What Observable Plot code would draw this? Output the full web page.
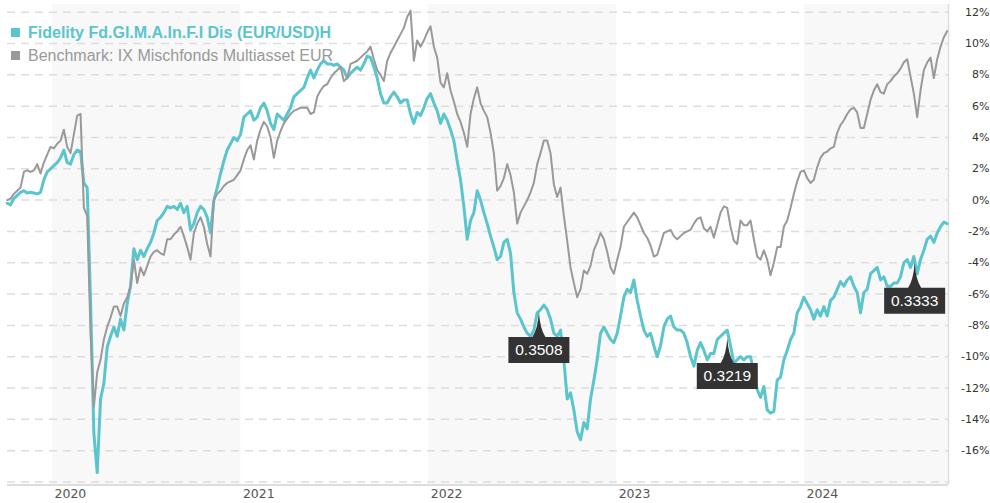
<!DOCTYPE html>
<html>
<head>
<meta charset="utf-8">
<script src="https://cdn.jsdelivr.net/npm/d3@7"></script>
<script src="https://cdn.jsdelivr.net/npm/@observablehq/plot@0.6"></script>
<style>
html, body { margin: 0; padding: 0; background: #fff; }
#wrap { position: relative; width: 990px; height: 503px; overflow: hidden; }
#legend { position: absolute; left: 11px; top: 21px; font-family: "Liberation Sans", Arial, sans-serif; font-size: 16px; line-height: 23px; z-index: 2; }
.item { display: flex; align-items: center; white-space: nowrap; }
.sw { width: 9px; height: 9px; margin-right: 8px; display: inline-block; flex: none; }
</style>
</head>
<body>
<div id="wrap"><div id="legend"></div></div>
<script>
// ---- data (values in %) ----
const seriesNames = ["Fidelity Fd.Gl.M.A.In.F.I Dis (EUR/USD)H", "Benchmark: IX Mischfonds Multiasset EUR"];
const seriesColors = ["#5bc5cd", "#999999"];

// sampling grid of the readings: first sample and spacing in days
const sampleStart = "2019-10-05";
const sampleStepDays = 6.476;

const fundValues = [
  -0.2,-0.3,0.1,0.3,0.5,0.6,0.45,0.5,0.45,0.4,
  0.5,1.3,1.8,2.0,2.2,2.4,2.7,3.2,2.4,2.3,
  2.9,3.2,3.1,1.1,0.8,-6.4,-14.9,-17.4,-12.7,-11.7,
  -9.4,-8.7,-8.1,-8.7,-7.6,-8.3,-6.6,-5.5,-3.1,-3.8,
  -3.2,-3.6,-3.1,-2.7,-2.1,-1.3,-1.1,-0.8,-0.4,-0.5,
  -0.4,-0.6,-0.2,-0.8,-0.4,-1.9,-1.5,-0.8,-0.4,-0.6,
  -1.1,-2.1,0,0.8,1.7,2.5,3.2,3.6,4.0,3.8,
  4.2,5.3,5.5,5.7,5.1,5.3,5.9,6.2,5.7,4.9,
  4.5,5.5,5.3,5.1,5.5,5.9,6.6,6.8,7.0,7.2,
  7.8,8.3,7.8,8.3,8.7,8.9,8.7,8.7,8.6,8.7,
  8.5,8.3,7.8,8.1,8.3,8.5,8.3,8.7,9.2,9.1,
  8.5,7.8,6.8,6.2,6.2,6.6,6.9,6.6,6.2,6.4,
  6.4,5.5,4.9,5.6,5.4,5.9,6.5,6.8,6.2,5.7,
  4.9,5.5,5.1,4.5,3.8,2.5,1.3,-0.4,-2.5,-1.3,
  -0.8,0.6,0,-0.8,-1.5,-2.3,-3.0,-3.8,-3.6,-2.7,
  -2.5,-3.4,-5.9,-7.2,-7.6,-8.1,-8.5,-8.7,-8.3,-7.2,
  -7.0,-6.7,-7.0,-7.6,-8.5,-8.7,-8.3,-10.2,-12.7,-12.3,
  -13.4,-14.8,-15.3,-14.2,-14.6,-12.7,-11.5,-10.2,-8.5,-8.1,
  -8.5,-8.9,-9.1,-8.5,-7.4,-6.2,-5.7,-5.9,-5.1,-6.4,
  -7.4,-8.3,-8.7,-8.5,-9.3,-10.0,-9.3,-8.1,-7.6,-7.4,
  -8.1,-8.3,-8.3,-8.5,-9.1,-10.0,-10.6,-9.6,-9.1,-9.6,
  -10.2,-9.8,-9.8,-8.9,-8.7,-8.5,-8.3,-9.3,-10.4,-10.2,
  -10.0,-10.2,-10.0,-10.0,-11.0,-12.1,-12.6,-11.9,-13.4,-13.6,
  -13.5,-11.5,-11.3,-10.2,-9.6,-8.9,-8.5,-7.2,-6.8,-6.2,
  -6.6,-7.0,-7.6,-7.0,-7.4,-6.8,-7.4,-6.4,-6.2,-5.7,
  -5.2,-5.5,-5.1,-4.9,-5.5,-5.9,-7.2,-5.9,-5.7,-4.7,
  -4.5,-4.3,-5.1,-4.9,-5.5,-5.5,-5.3,-5.3,-4.9,-4.0,
  -3.8,-4.3,-3.6,-4.7,-3.8,-3.2,-2.5,-2.3,-2.7,-2.1,
  -1.7,-1.4,-1.5
];

const benchmarkValues = [
  0.0,0.1,0.4,0.6,0.8,1.8,1.9,1.8,1.9,2.3,
  1.7,2.4,2.9,3.4,3.3,3.6,3.8,4.5,3.4,3.0,
  4.2,5.4,5.5,-0.5,-1.0,-8.5,-13.2,-11.0,-10.2,-8.9,
  -8.1,-7.5,-6.8,-6.8,-7.4,-6.6,-6.2,-5.5,-3.8,-5.3,
  -4.3,-4.8,-4.2,-3.6,-3.3,-3.2,-3.4,-3.5,-2.5,-2.5,
  -2.2,-2.0,-1.7,-2.3,-3.0,-3.8,-2.1,-1.5,-1.1,-1.7,
  -2.8,-3.6,0.0,0.4,0.6,0.9,1.1,1.2,1.3,1.6,
  1.9,2.6,3.2,3.5,2.6,3.8,4.5,5.0,4.7,4.0,
  2.7,3.8,4.4,4.9,5.2,5.5,5.7,5.8,5.9,5.9,
  5.9,5.5,5.6,6.6,7.0,7.3,7.4,7.8,8.1,8.3,
  8.5,7.6,7.8,8.7,8.8,8.9,9.1,9.3,9.5,9.8,
  9.0,8.3,8.0,7.6,8.9,9.4,9.8,10.2,10.6,11.0,
  11.7,12.1,8.9,10.2,9.8,10.2,10.7,11.1,9.8,9.1,
  7.5,7.2,8.1,7.0,6.3,5.5,5.0,4.3,3.4,5.5,
  6.5,7.2,6.2,5.7,5.3,4.3,3.0,0.6,0.9,1.4,
  2.3,1.6,0.5,-1.5,-0.8,-0.4,0.0,0.5,1.1,2.3,
  3.0,3.8,3.8,3.0,1.0,0.2,0.8,-1.0,-2.6,-4.3,
  -5.3,-6.2,-5.7,-4.5,-4.7,-4.2,-3.2,-2.7,-2.1,-2.5,
  -3.3,-4.3,-4.7,-3.8,-3.0,-1.7,-1.4,-1.1,-0.8,-1.1,
  -1.6,-2.1,-2.4,-2.9,-3.6,-3.5,-2.8,-2.1,-2.0,-1.9,
  -2.3,-2.5,-2.3,-2.1,-2.0,-1.9,-1.5,-1.2,-1.1,-1.8,
  -2.0,-1.7,-2.4,-1.6,-0.8,-0.4,-0.5,-1.7,-2.6,-2.8,
  -1.3,-1.6,-1.6,-1.3,-2.5,-3.6,-3.8,-3.2,-3.8,-4.8,
  -4.0,-3.0,-3.0,-1.7,-1.3,-0.5,0.4,1.2,1.8,1.9,
  1.4,1.1,1.3,2.1,2.7,3.0,3.1,3.3,3.4,4.3,
  4.8,5.1,5.5,5.8,5.9,5.6,4.6,4.6,5.5,6.4,
  7.0,7.4,6.9,6.8,7.4,7.6,7.9,8.1,8.4,8.8,
  9.0,7.9,6.8,5.3,7.0,8.3,8.8,9.1,7.8,9.0,
  9.8,10.4,10.8
];

// distribution callouts
const divDates = ["2022-08-03", "2023-08-04", "2024-08-02"];
const divValues = [-7.15, -8.8, -4.0];
const divLabels = ["0.3508", "0.3219", "0.3333"];

// axes
const yGridValues = [12, 10, 8, 6, 4, 2, 0, -2, -4, -6, -8, -10, -12, -14, -16, -18];
const yLabelValues = [12, 10, 8, 6, 4, 2, 0, -2, -4, -6, -8, -10, -12, -14, -16];
const yearLabels = [2020, 2021, 2022, 2023, 2024];
const shadedYears = [2020, 2022, 2024];

// ---- build ----
const xStart = new Date(Date.UTC(2019, 9, 5, 13, 40));
const xEnd = new Date(Date.UTC(2024, 9, 6, 18, 30));
const yBottom = -18.2, yTop = 12.5;

const t0 = new Date(sampleStart + "T00:00:00Z").getTime();
const dateAt = i => new Date(t0 + i * sampleStepDays * 864e5);
const fund = fundValues.map((v, i) => ({date: dateAt(i), value: v}));
const bench = benchmarkValues.map((v, i) => ({date: dateAt(i), value: v}));

const bands = shadedYears.map(y => ({
  start: new Date(Date.UTC(y, 0, 1)),
  end: y === 2024 ? xEnd : new Date(Date.UTC(y + 1, 0, 1))
}));

const divs = divDates.map((d, i) => ({date: new Date(d + "T00:00:00Z"), value: divValues[i], label: divLabels[i]}));

const callout = {
  draw(ctx) {
    ctx.moveTo(0, 0);
    ctx.quadraticCurveTo(1.2, 17, 6.5, 25);
    ctx.lineTo(-6.5, 25);
    ctx.quadraticCurveTo(-1.2, 17, 0, 0);
    ctx.closePath();
    ctx.rect(-30.5, 25, 61, 26);
  }
};

const chart = Plot.plot({
  width: 990,
  height: 503,
  marginLeft: 7,
  marginRight: 42,
  marginTop: 3.9,
  marginBottom: 18.4,
  style: {background: "#fff", fontFamily: "'DejaVu Sans', Verdana, sans-serif"},
  x: {type: "utc", domain: [xStart, xEnd], axis: null},
  y: {domain: [yBottom, yTop], axis: null},
  marks: [
    Plot.rect(bands, {x1: "start", x2: "end", y1: yBottom, y2: yTop, fill: "#f8f8f8"}),
    Plot.ruleY(yGridValues, {stroke: "#dddddd", strokeWidth: 1.5, strokeDasharray: "8,6"}),
    Plot.ruleY([yBottom], {stroke: "#dddddd", strokeWidth: 2}),
    Plot.ruleX([xEnd], {y1: yBottom, y2: yTop, stroke: "#dddddd", strokeWidth: 1.5}),
    Plot.line(fund, {x: "date", y: "value", stroke: seriesColors[0], strokeWidth: 3, strokeLinejoin: "round"}),
    Plot.line(bench, {x: "date", y: "value", stroke: seriesColors[1], strokeWidth: 2, strokeLinejoin: "round"}),
    Plot.dot(divs, {x: "date", y: "value", symbol: callout, fill: "#333333", stroke: "none", r: 5}),
    Plot.text(divs, {x: "date", y: "value", text: "label", dy: 38, lineAnchor: "middle", fill: "#ffffff", fontSize: 15.5, fontFamily: "'Liberation Sans', Arial, sans-serif"}),
    Plot.text(yLabelValues, {y: d => d, text: d => `${d}%`, frameAnchor: "right", dx: 41, textAnchor: "end", lineAnchor: "middle", fontSize: 11, fill: "#333333"}),
    Plot.text(yearLabels, {x: d => new Date(Date.UTC(d, 0, 1)), text: d => String(d), frameAnchor: "bottom", dy: 8.5, dx: 2, textAnchor: "start", lineAnchor: "middle", fontSize: 12.5, fill: "#555555"})
  ]
});

const wrap = document.getElementById("wrap");
wrap.insertBefore(chart, wrap.firstChild);

const legend = document.getElementById("legend");
seriesNames.forEach((name, i) => {
  const item = document.createElement("div");
  item.className = "item";
  item.style.color = seriesColors[i];
  item.style.fontWeight = i === 0 ? "bold" : "normal";
  const sw = document.createElement("span");
  sw.className = "sw";
  sw.style.background = seriesColors[i];
  item.appendChild(sw);
  item.appendChild(document.createTextNode(name));
  legend.appendChild(item);
});
</script>
</body>
</html>
